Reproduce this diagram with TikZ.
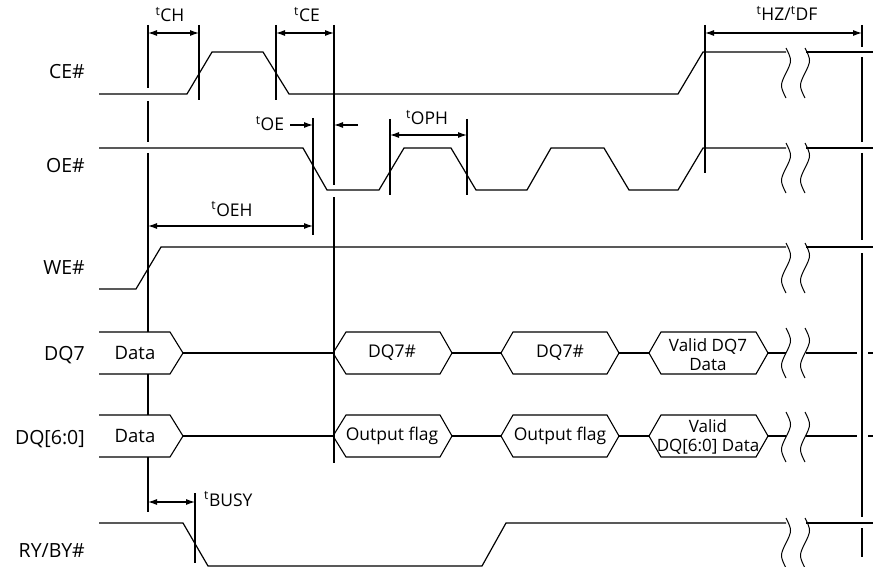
\documentclass[tikz,border=0pt]{standalone}
\usepackage{fontspec}
\setmainfont{Open Sans}
\usetikzlibrary{arrows.meta}
\newcommand\tdsquig[2]{\draw[sq] (#1,#2) .. controls (#1+6,#2+12) and (#1+6,#2+13) .. (#1,#2+25) .. controls (#1-6,#2+37) and (#1-6,#2+38) .. (#1,#2+50);}
\begin{document}
\begin{tikzpicture}[x=1pt,y=-1pt,
  sig/.style={line width=1.2pt, line join=miter},
  vl/.style={line width=1.1pt},
  sq/.style={line width=1.0pt},
  dim/.style={line width=1.1pt, {Latex[length=9pt,width=6pt]}-{Latex[length=9pt,width=6pt]}},
  dimr/.style={line width=1.1pt, -{Latex[length=9pt,width=6pt]}},
  lbl/.style={font=\fontsize{17.5}{20}\selectfont, inner sep=0pt},
  slbl/.style={font=\fontsize{19.5}{22}\selectfont, inner sep=0pt, anchor=base east},
  dlbl/.style={font=\fontsize{18.5}{20}\selectfont, inner sep=0pt},
  blbl/.style={font=\fontsize{17}{19}\selectfont, inner sep=0pt, align=center},
  box/.style={line width=1.1pt, line join=miter}]
\useasboundingbox (0,0) rectangle (873,567);

% signal names
\node[slbl] (nce) at (85,79) {CE\#};
\node[slbl] (noe) at (85,172) {OE\#};
\node[slbl] (nwe) at (85,274) {WE\#};
\node[slbl] (ndq7) at (85,360) {DQ7};
\node[slbl] (ndq6) at (85,444) {DQ[6:0]};
\node[slbl] (nry) at (85,557) {RY/BY\#};

% vertical reference lines
\draw[vl] (148,25) -- (148,88) (148,101) -- (148,142) (148,153) -- (148,332)
          (148,374) -- (148,415) (148,457) -- (148,512);
\draw[vl] (199,25) -- (199,100);
\draw[vl] (276,25) -- (276,100);
\draw[vl] (334,25) -- (334,185) (334,197) -- (334,463);
\draw[vl] (313,118) -- (313,235);
\draw[vl] (390,119) -- (390,195);
\draw[vl] (467,119) -- (467,195);
\draw[vl] (705,25) -- (705,173);
\draw[vl] (195,493) -- (195,563);
\draw[vl] (862,25) -- (862,47) (862,57) -- (862,142) (862,153) -- (862,240)
          (862,253) -- (862,517) (862,528) -- (862,557);

% CE#
\draw[sig] (99,94) -- (187,94) -- (212,52) -- (263,52) -- (289,94) -- (678,94) -- (703,52) -- (786,52);
\draw[sig] (806,52) -- (873,52);
\tdsquig{786}{48}\tdsquig{805}{48}

% OE#
\draw[sig] (99,148) -- (303,148) -- (327,190) -- (379,190) -- (404,148) -- (451,148) -- (476,190)
  -- (527,190) -- (551,148) -- (604,148) -- (629,190) -- (678,190) -- (703,148) -- (786,148);
\draw[sig] (806,148) -- (873,148);
\tdsquig{786}{143}\tdsquig{805}{143}

% WE#
\draw[sig] (99,289) -- (136,289) -- (161,247) -- (786,247);
\draw[sig] (806,247) -- (873,247);
\tdsquig{786}{243}\tdsquig{805}{243}

% DQ7
\draw[box] (99,332) -- (170,332) -- (183,353) -- (170,374) -- (99,374);
\draw[sig] (183,353) -- (333,353);
\draw[box] (333,353) -- (346,332) -- (440,332) -- (452,353) -- (440,374) -- (346,374) -- cycle;
\draw[sig] (452,353) -- (501,353);
\draw[box] (501,353) -- (513,332) -- (607,332) -- (619,353) -- (607,374) -- (513,374) -- cycle;
\draw[sig] (619,353) -- (649,353);
\draw[box] (649,353) -- (661,332) -- (756,332) -- (768,353) -- (756,374) -- (661,374) -- cycle;
\draw[sig] (768,353) -- (786,353) (806,353) -- (857,353) (868,353) -- (873,353);
\tdsquig{786}{328}\tdsquig{805}{328}
\node[dlbl] (d7a) at (135,353) {Data};
\node[lbl] (d7b) at (392,353) {DQ7\#};
\node[lbl] (d7c) at (560,353) {DQ7\#};
\node[blbl] (d7d) at (708,355) {Valid DQ7\\Data};

% DQ[6:0]
\draw[box] (99,415) -- (170,415) -- (183,436) -- (170,457) -- (99,457);
\draw[sig] (183,436) -- (333,436);
\draw[box] (333,436) -- (346,415) -- (440,415) -- (452,436) -- (440,457) -- (346,457) -- cycle;
\draw[sig] (452,436) -- (501,436);
\draw[box] (501,436) -- (513,415) -- (607,415) -- (619,436) -- (607,457) -- (513,457) -- cycle;
\draw[sig] (619,436) -- (649,436);
\draw[box] (649,436) -- (661,415) -- (756,415) -- (768,436) -- (756,457) -- (661,457) -- cycle;
\draw[sig] (768,436) -- (786,436) (806,436) -- (857,436) (868,436) -- (873,436);
\tdsquig{786}{412}\tdsquig{805}{412}
\node[dlbl] (d6a) at (135,436) {Data};
\node[lbl] (d6b) at (392,436) {Output flag};
\node[lbl] (d6c) at (560,436) {Output flag};
\node[blbl] (d6d) at (708,437) {Valid\\DQ[6:0] Data};

% RY/BY#
\draw[sig] (99,523) -- (183,523) -- (208,566) -- (482,566) -- (506,523) -- (786,523);
\draw[sig] (806,523) -- (873,523);
\tdsquig{786}{518}\tdsquig{805}{518}

% dimension arrows
\draw[dim] (148,33) -- (199,33);
\draw[dim] (276,33) -- (334,33);
\draw[dim] (705,33) -- (862,33);
\draw[dimr] (290,125) -- (313,125);
\draw[dimr] (358,125) -- (334,125);
\draw[dim] (390,135) -- (467,135);
\draw[dim] (148,226) -- (313,226);
\draw[dim] (148,502) -- (195,502);

% timing labels
\node[lbl, anchor=base] (tch) at (170,22) {\textsuperscript{t}CH};
\node[lbl, anchor=base] (tce) at (307,22) {\textsuperscript{t}CE};
\node[lbl, anchor=base] (thz) at (787,21) {\textsuperscript{t}HZ/\textsuperscript{t}DF};
\node[lbl, anchor=base] (toe) at (270,131) {\textsuperscript{t}OE};
\node[lbl, anchor=base] (toph) at (427,125) {\textsuperscript{t}OPH};
\node[lbl, anchor=base] (toeh) at (232,216) {\textsuperscript{t}OEH};
\node[lbl, anchor=base west] (tbusy) at (204,506) {\textsuperscript{t}BUSY};
\end{tikzpicture}
\end{document}
